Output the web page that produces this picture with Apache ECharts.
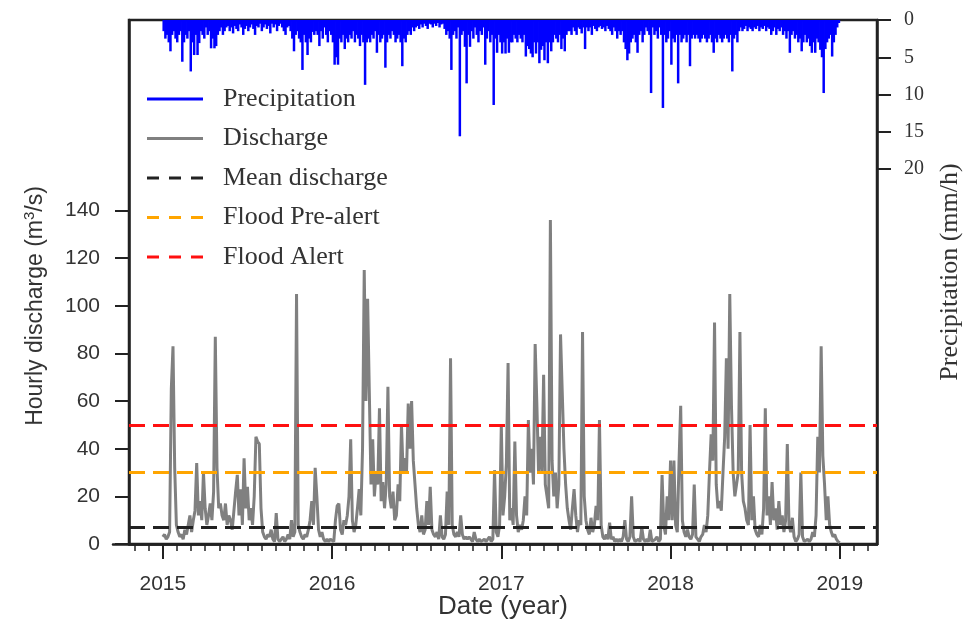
<!DOCTYPE html>
<html>
<head>
<meta charset="utf-8">
<script src="https://cdn.jsdelivr.net/npm/echarts@6/dist/echarts.min.js"></script>
<style>
  html, body { margin: 0; padding: 0; background: #fff; }
  #chart { width: 963px; height: 630px; }
</style>
</head>
<body>
<div id="chart"></div>
<script>
// hourly discharge (m3/s), one reading every 0.01 year from 2015.00 to 2019.00
const dischargeValues = [
  3, 4, 2, 3, 5, 65, 83, 32, 8, 5,
  3, 4, 2, 6, 4, 8, 12, 5, 10, 14,
  34, 12, 18, 10, 30, 15, 8, 12, 17, 10,
  22, 87, 32, 15, 17, 12, 10, 17, 8, 12,
  10, 6, 14, 22, 29, 12, 23, 8, 36, 15,
  24, 10, 15, 8, 20, 45, 43, 42, 15, 5,
  3, 2, 4, 3, 6, 2, 1, 13, 2, 1,
  2, 3, 1, 2, 4, 2, 10, 3, 5, 105,
  8, 5, 3, 2, 4, 3, 6, 10, 18, 8,
  32, 20, 6, 3, 5, 2, 1, 2, 1, 2,
  2, 1, 10, 16, 17, 6, 4, 10, 8, 12,
  20, 44, 10, 5, 8, 15, 23, 12, 40, 115,
  60, 103, 64, 25, 44, 20, 30, 25, 57, 18,
  26, 15, 25, 66, 20, 15, 22, 10, 12, 25,
  18, 50, 30, 36, 30, 59, 40, 60, 35, 25,
  15, 8, 5, 12, 4, 6, 18, 8, 24, 6,
  4, 3, 5, 2, 12, 3, 2, 4, 22, 8,
  78, 8, 4, 3, 5, 3, 12, 4, 2, 3,
  2, 3, 2, 1, 5, 2, 1, 2, 1, 1,
  2, 1, 2, 3, 1, 2, 31, 5, 3, 8,
  50, 12, 20, 34, 76, 10, 15, 8, 43, 12,
  5, 8, 6, 10, 20, 12, 52, 30, 40, 25,
  84, 59, 30, 45, 30, 71, 25, 20, 15, 136,
  35, 20, 30, 15, 25, 88, 64, 40, 25, 15,
  10, 6, 15, 23, 12, 5, 10, 8, 89, 20,
  10, 6, 4, 11, 5, 8, 16, 10, 52, 8,
  3, 2, 4, 2, 9, 2, 3, 1, 2, 1,
  2, 1, 3, 10, 2, 1, 3, 20, 3, 1,
  1, 2, 1, 7, 2, 1, 2, 1, 6, 1,
  1, 2, 3, 1, 2, 29, 8, 4, 20, 10,
  35, 10, 35, 8, 5, 34, 58, 10, 5, 3,
  6, 3, 2, 4, 25, 3, 2, 1, 3, 4,
  8, 5, 12, 30, 46, 35, 93, 25, 15, 18,
  14, 30, 45, 78, 40, 105, 58, 30, 20, 25,
  30, 89, 30, 18, 15, 10, 8, 50, 10, 20,
  6, 4, 3, 8, 4, 15, 57, 12, 20, 8,
  26, 10, 15, 6, 18, 8, 12, 5, 10, 42,
  8, 5, 11, 3, 1, 2, 4, 30, 3, 1,
  1, 2, 1, 2, 5, 3, 12, 45, 30, 83,
  37, 25, 10, 20, 8, 5, 3, 4, 2, 1,
  0.5
];

// precipitation (mm/h), one bar every 0.01 year from 2015.00 to 2018.99
const precipValues = [
  1.5, 2.5, 2, 3, 4.2, 2, 1.5, 2.5, 3, 2,
  1.5, 5.6, 3, 2, 2.5, 1.5, 6.9, 3, 4.7, 2,
  4.7, 3.1, 1.5, 2, 2.5, 1, 2, 1.5, 3.8, 2.5,
  3.8, 3.5, 2, 1.5, 1, 2, 1.5, 1, 0.8, 1.5,
  1, 1.8, 0.8, 1.2, 1.5, 0.6, 1, 2, 1.2, 0.8,
  1.5, 1, 0.6, 1.2, 2, 0.8, 1, 0.5, 1.5, 1,
  0.6, 1.2, 0.8, 1.8, 0.5, 1, 0.6, 1.5, 0.8, 0.5,
  1, 1.5, 2, 1, 0.8, 1.5, 2.5, 4.2, 2, 1.5,
  2.5, 3, 6.7, 2, 3, 4.7, 2.5, 3, 1.6, 2,
  1.5, 2, 3.5, 1.5, 2.5, 1, 2, 3, 1.5, 2,
  3, 6, 5, 6, 2.5, 3, 2, 3.9, 2.5, 3,
  2, 2.5, 1.5, 3, 2, 2.5, 3.5, 2, 3, 8.7,
  3, 2.5, 3, 2, 2.5, 1.5, 4.4, 2, 3, 2.5,
  2, 6.4, 3, 2, 2.5, 1.5, 2, 3, 2.5, 2,
  3, 6.2, 2.5, 3, 2, 1.5, 2, 1, 1.5, 1,
  0.8, 1.2, 0.6, 1, 0.5, 0.8, 1.2, 0.5, 0.6, 1,
  0.5, 0.8, 0.4, 1, 0.6, 0.5, 1.2, 2, 1.5, 2.5,
  6.7, 2, 1.5, 2.5, 1, 15.6, 2, 1.5, 3.6, 8.5,
  2, 3.6, 1.5, 2.5, 1, 2, 3, 1.5, 2, 1,
  6, 2.5, 1.5, 3, 2, 11.4, 2.5, 4.4, 2, 3,
  4.5, 3, 4.5, 2.5, 4.4, 3, 3, 2, 2.5, 3,
  2, 2.5, 3, 2, 4.9, 3.5, 3.9, 4.5, 5, 3,
  4.5, 3, 5.8, 4, 3.5, 5.4, 3, 5.8, 3, 4.2,
  3, 2, 2.5, 3, 2, 3.9, 2.5, 4.2, 2, 1.5,
  1.5, 2, 1, 1.5, 2, 1, 1.2, 1.8, 1, 3.9,
  1, 1.5, 1, 2, 0.8, 1.2, 1.5, 1, 0.8, 1.2,
  1, 1.5, 0.8, 1.2, 1.5, 2, 1, 1.5, 2.5, 1.5,
  2, 1.5, 3, 3.9, 5.4, 4.5, 3, 2.5, 2, 3,
  4.4, 2, 1.5, 3, 2, 1, 1.5, 2, 9.8, 1,
  2, 1.5, 2.5, 1, 2, 11.8, 2, 3, 2.5, 1.5,
  6, 2.5, 3, 2, 8.5, 2, 3, 2.5, 2, 3,
  2, 6.2, 2.5, 2, 2.5, 2, 2.5, 3, 2.5, 2,
  2.5, 3, 2.5, 2, 3, 4.4, 2.5, 3, 2, 2.5,
  3, 2.5, 2, 2.5, 3, 2, 6.9, 2.5, 2, 3,
  1.5, 1, 1.5, 1.2, 0.8, 1.5, 1, 1.2, 1.5, 1,
  1.2, 0.8, 1.5, 1, 1.2, 0.8, 1.5, 1, 1.2, 2,
  1.5, 1, 2, 1.2, 1.5, 1, 2, 1.5, 2.5, 1.5,
  4.4, 2, 1.5, 2.5, 2, 3, 2.5, 4.2, 3, 2,
  3, 2.5, 3.5, 4.4, 3, 4.4, 2.5, 3, 4, 5,
  9.8, 3.9, 3, 2.5, 2, 4.9, 3, 2, 1, 0.4
];

const yearTicks = [2015, 2016, 2017, 2018, 2019];
const dischargeTicks = [0, 20, 40, 60, 80, 100, 120, 140];
const precipTicks = [0, 5, 10, 15, 20];
const meanDischarge = 7;
const floodPreAlert = 30;
const floodAlert = 50;

const xMin = 2014.8;
const xMax = 2019.22;
// the bottom spine starts a bit left of the frame, same scale
const xMinSpine = 2014.7054;

// month ticks between the year ticks
const monthTicks = [];
for (let y = 2014; y <= 2019; y++) {
    for (let m = 1; m < 12; m++) {
        const v = y + m / 12;
        if (v > xMin && v < xMax) monthTicks.push(v);
    }
}

const dischargeData = dischargeValues.map((v, i) => [2015 + i / 100, v]);
const precipData = precipValues.map((v, i) => [2015.005 + i / 100, v]);

const sans = 'Liberation Sans';
const serif = 'Liberation Serif';
const axisColor = '#222';
const textColor = '#333';

const solidIcon = 'path://M0,0H56V3H0Z';
const dashIcon = 'path://M0,0H12V3H0Z M22,0H34V3H22Z M44,0H56V3H44Z';

function thresholdSeries(name, value, color) {
    return {
        name: name,
        type: 'line',
        data: [],
        symbol: 'none',
        itemStyle: { color: color },
        lineStyle: { color: color, width: 3, type: [16, 8] },
        markLine: {
            silent: true,
            symbol: ['none', 'none'],
            label: { show: false },
            lineStyle: { color: color, width: 3, type: [16, 8] },
            data: [{ yAxis: value }]
        }
    };
}

const chart = echarts.init(document.getElementById('chart'));

const option = {
    animation: false,
    grid: [
        {
            left: 129,
            right: 86,
            top: 20,
            bottom: 86,
            show: true,
            borderColor: axisColor,
            borderWidth: 2.5,
            outerBoundsMode: 'none'
        },
        {
            left: 113,
            right: 86,
            top: 20,
            bottom: 86,
            outerBoundsMode: 'none'
        }
    ],
    legend: {
        orient: 'vertical',
        left: 147,
        top: 86,
        padding: 0,
        itemWidth: 56,
        itemHeight: 14,
        itemGap: 13.5,
        textStyle: {
            fontFamily: serif,
            fontSize: 26,
            color: textColor,
            padding: [0, 0, 0, 15]
        },
        data: [
            { name: 'Precipitation', icon: solidIcon },
            { name: 'Discharge', icon: solidIcon },
            { name: 'Mean discharge', icon: dashIcon },
            { name: 'Flood Pre-alert', icon: dashIcon },
            { name: 'Flood Alert', icon: dashIcon }
        ]
    },
    xAxis: [
        {
            type: 'value',
            gridIndex: 0,
            min: xMin,
            max: xMax,
            axisLine: { show: true, lineStyle: { color: axisColor, width: 2.5 } },
            axisTick: {
                customValues: yearTicks,
                length: 15,
                lineStyle: { color: axisColor, width: 2 }
            },
            axisLabel: {
                customValues: yearTicks,
                formatter: v => String(v),
                fontFamily: sans,
                fontSize: 21,
                color: textColor,
                margin: 30
            },
            splitLine: { show: false },
            name: 'Date (year)',
            nameLocation: 'middle',
            nameGap: 50,
            nameMoveOverlap: false,
            nameTextStyle: { fontFamily: sans, fontSize: 26, color: textColor }
        },
        {
            type: 'value',
            gridIndex: 1,
            min: xMinSpine,
            max: xMax,
            position: 'bottom',
            axisLine: { show: true, lineStyle: { color: axisColor, width: 2.5 } },
            axisTick: {
                customValues: monthTicks,
                length: 7,
                lineStyle: { color: axisColor, width: 1.5 }
            },
            axisLabel: { show: false },
            splitLine: { show: false }
        }
    ],
    yAxis: [
        {
            type: 'value',
            gridIndex: 0,
            min: 0,
            max: 220,
            position: 'left',
            axisLine: { show: true, lineStyle: { color: axisColor, width: 2.5 } },
            axisTick: {
                customValues: dischargeTicks,
                length: 14,
                lineStyle: { color: axisColor, width: 2 }
            },
            axisLabel: {
                customValues: dischargeTicks,
                fontFamily: sans,
                fontSize: 21,
                color: textColor,
                margin: 29
            },
            splitLine: { show: false },
            name: 'Hourly discharge (m{sup|3}/s)',
            nameLocation: 'middle',
            nameRotate: 90,
            nameGap: 80,
            nameMoveOverlap: false,
            nameTextStyle: {
                fontFamily: sans,
                fontSize: 23,
                color: textColor,
                padding: [0, 48, 0, 0],
                rich: {
                    sup: {
                        fontFamily: sans,
                        fontSize: 15,
                        color: textColor,
                        padding: [0, 0, 12, 0]
                    }
                }
            }
        },
        {
            type: 'value',
            gridIndex: 0,
            inverse: true,
            min: 0,
            max: 70.3,
            position: 'right',
            axisLine: { show: true, lineStyle: { color: axisColor, width: 2.5 } },
            axisTick: {
                customValues: precipTicks,
                length: 14,
                lineStyle: { color: axisColor, width: 2 }
            },
            axisLabel: {
                customValues: precipTicks,
                fontFamily: serif,
                fontSize: 20,
                color: textColor,
                margin: 27
            },
            splitLine: { show: false },
            name: 'Precipitation (mm/h)',
            nameLocation: 'middle',
            nameRotate: 90,
            nameGap: 60,
            nameMoveOverlap: false,
            nameTextStyle: {
                fontFamily: serif,
                fontSize: 26,
                color: textColor,
                padding: [0, 0, 0, 20]
            }
        },
        {
            type: 'value',
            gridIndex: 1,
            show: false,
            min: 0,
            max: 1
        }
    ],
    series: [
        {
            name: 'Precipitation',
            type: 'bar',
            xAxisIndex: 0,
            yAxisIndex: 1,
            barWidth: 2.5,
            itemStyle: { color: '#0000ff' },
            data: precipData
        },
        {
            name: 'Discharge',
            type: 'line',
            xAxisIndex: 0,
            yAxisIndex: 0,
            symbol: 'none',
            sampling: 'none',
            itemStyle: { color: '#808080' },
            lineStyle: { color: '#808080', width: 3 },
            data: dischargeData
        },
        thresholdSeries('Mean discharge', meanDischarge, '#222222'),
        thresholdSeries('Flood Pre-alert', floodPreAlert, '#ffa500'),
        thresholdSeries('Flood Alert', floodAlert, '#ff1010')
    ]
};

chart.setOption(option);
</script>
</body>
</html>
